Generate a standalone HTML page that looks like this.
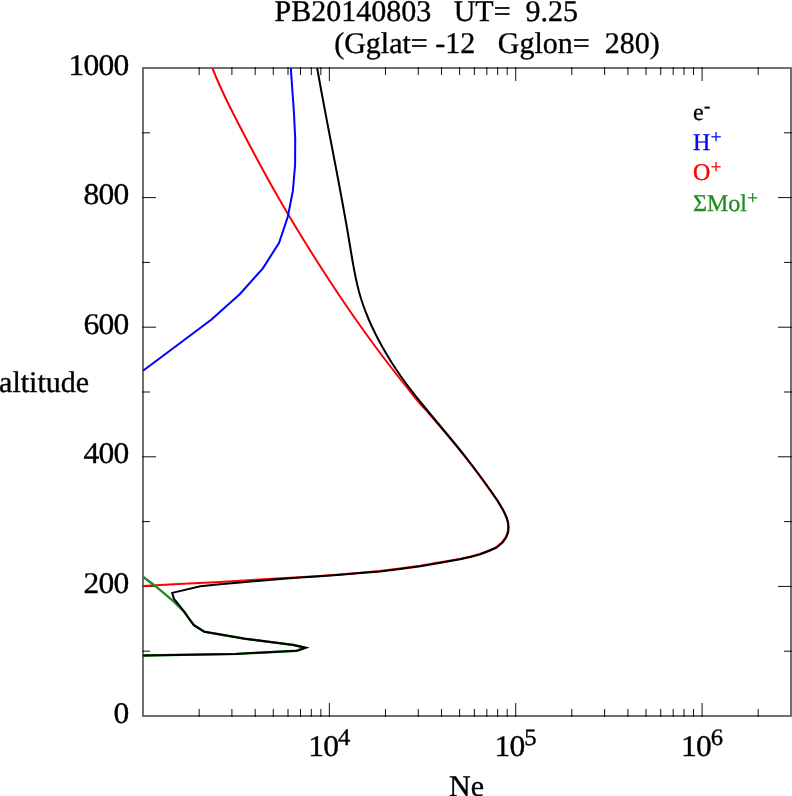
<!DOCTYPE html>
<html><head><meta charset="utf-8"><title>plot</title>
<style>
html,body{margin:0;padding:0;background:#fff;}
body{width:792px;height:796px;overflow:hidden;}
svg{display:block;will-change:transform;}
text{font-family:"Liberation Serif",serif;white-space:pre;text-rendering:geometricPrecision;}
</style></head><body>
<svg width="792" height="796" viewBox="0 0 792 796">
<rect width="792" height="796" fill="#fff"/>
<path d="M199.10,717.0 v-8 M199.10,67.0 v8 M231.92,717.0 v-8 M231.92,67.0 v8 M255.20,717.0 v-8 M255.20,67.0 v8 M273.26,717.0 v-8 M273.26,67.0 v8 M288.02,717.0 v-8 M288.02,67.0 v8 M300.49,717.0 v-8 M300.49,67.0 v8 M311.30,717.0 v-8 M311.30,67.0 v8 M320.83,717.0 v-8 M320.83,67.0 v8 M329.36,717.0 v-14 M329.36,67.0 v14 M385.46,717.0 v-8 M385.46,67.0 v8 M418.28,717.0 v-8 M418.28,67.0 v8 M441.56,717.0 v-8 M441.56,67.0 v8 M459.62,717.0 v-8 M459.62,67.0 v8 M474.38,717.0 v-8 M474.38,67.0 v8 M486.85,717.0 v-8 M486.85,67.0 v8 M497.66,717.0 v-8 M497.66,67.0 v8 M507.19,717.0 v-8 M507.19,67.0 v8 M515.72,717.0 v-14 M515.72,67.0 v14 M571.82,717.0 v-8 M571.82,67.0 v8 M604.64,717.0 v-8 M604.64,67.0 v8 M627.92,717.0 v-8 M627.92,67.0 v8 M645.98,717.0 v-8 M645.98,67.0 v8 M660.74,717.0 v-8 M660.74,67.0 v8 M673.22,717.0 v-8 M673.22,67.0 v8 M684.02,717.0 v-8 M684.02,67.0 v8 M693.56,717.0 v-8 M693.56,67.0 v8 M702.08,717.0 v-14 M702.08,67.0 v14 M758.18,717.0 v-8 M758.18,67.0 v8 M142.0,651.20 h8 M792.0,651.20 h-8 M142.0,586.40 h14 M792.0,586.40 h-14 M142.0,521.60 h8 M792.0,521.60 h-8 M142.0,456.80 h14 M792.0,456.80 h-14 M142.0,392.00 h8 M792.0,392.00 h-8 M142.0,327.20 h14 M792.0,327.20 h-14 M142.0,262.40 h8 M792.0,262.40 h-8 M142.0,197.60 h14 M792.0,197.60 h-14 M142.0,132.80 h8 M792.0,132.80 h-8" stroke="#000" stroke-opacity="0.95" stroke-width="1" fill="none"/>
<rect x="143.0" y="68.0" width="648.0" height="648.0" fill="none" stroke="#000" stroke-opacity="0.56" stroke-width="2"/>
<g fill="none" stroke-width="2" stroke-linejoin="miter" stroke-linecap="butt">
<path d="M212.37,68.00 L215.61,76.00 L219.06,84.00 L222.71,92.00 L226.51,100.00 L230.44,108.00 L234.48,116.00 L238.59,124.00 L242.75,132.00 L246.93,140.00 L251.15,148.00 L255.40,156.00 L259.70,164.00 L264.05,172.00 L268.46,180.00 L272.93,188.00 L277.48,196.00 L282.09,204.00 L286.77,212.00 L291.52,220.00 L296.34,228.00 L301.22,236.00 L306.16,244.00 L311.16,252.00 L316.22,260.00 L321.33,268.00 L326.51,276.00 L331.74,284.00 L337.04,292.00 L342.41,300.00 L347.86,308.00 L353.39,316.00 L359.00,324.00 L364.70,332.00 L370.49,340.00 L376.38,348.00 L382.38,356.00 L388.48,364.00 L394.67,372.00 L400.96,380.00 L407.33,388.00 L413.79,396.00 L420.34,404.00 L426.69,410.90 L432.69,417.90 L438.68,424.90 L444.64,431.90 L450.54,438.90 L456.34,445.90 L461.99,452.90 L467.52,459.90 L472.91,466.90 L478.17,473.90 L483.30,480.90 L488.33,487.90 L496.90,499.85 L502.90,509.95 L506.20,517.05 L507.70,522.05 L508.20,527.15 L507.70,532.15 L505.70,537.25 L502.10,542.25 L496.10,547.35 L489.00,550.35 L479.90,553.85 L469.80,556.75 L459.60,558.95 L440.20,562.35 L420.00,565.85 L399.80,568.55 L379.60,571.05 L360.20,572.75 L340.00,574.45 L319.80,575.95 L299.60,577.25 L280.60,578.20 L260.40,579.40 L240.20,580.70 L220.00,581.90 L199.10,582.90 L173.90,584.20 L143.00,586.00" stroke="#ff0000"/>
<path d="M290.82,68.00 L292.14,87.30 L293.99,113.20 L295.23,139.10 L295.10,165.00 L292.87,190.90 L287.79,216.80 L279.10,242.70 L262.90,268.40 L239.70,294.20 L211.50,319.60 L176.50,345.80 L143.00,370.80" stroke="#0000ff"/>
<path d="M143.00,576.80 L154.90,585.70 L173.90,601.70 L184.30,611.90 L189.00,618.60 L193.80,625.00 L204.20,631.70 L245.00,638.70 L293.60,645.00 L305.50,647.75 L296.90,650.70 L236.00,653.90 L143.00,655.50" stroke="#228b22" stroke-width="2.4"/>
<path d="M317.17,68.00 L318.41,75.00 L319.67,82.00 L320.95,89.00 L322.25,96.00 L323.55,103.00 L324.87,110.00 L326.19,117.00 L327.53,124.00 L328.87,131.00 L330.21,138.00 L331.56,145.00 L332.90,152.00 L334.24,159.00 L335.58,166.00 L336.92,173.00 L338.24,180.00 L339.56,187.00 L340.86,194.00 L342.16,201.00 L343.43,208.00 L344.69,215.00 L345.93,222.00 L347.15,229.00 L348.35,236.00 L349.52,243.00 L350.68,250.00 L351.85,257.00 L353.07,264.00 L354.37,271.00 L355.77,278.00 L357.31,285.00 L359.07,292.00 L361.13,299.00 L363.48,306.00 L366.10,313.00 L368.99,320.00 L372.13,327.00 L375.52,334.00 L379.13,341.00 L382.97,348.00 L387.03,355.00 L391.33,362.00 L395.86,369.00 L400.65,376.00 L405.68,383.00 L410.96,390.00 L416.44,397.00 L422.07,404.00 L427.81,411.00 L433.62,418.00 L439.45,425.00 L445.27,432.00 L451.06,439.00 L456.79,446.00 L462.44,453.00 L467.97,460.00 L473.36,467.00 L478.62,474.00 L483.75,481.00 L488.78,488.00 L497.30,500.20 L503.30,510.30 L506.60,517.40 L508.10,522.40 L508.60,527.50 L508.10,532.50 L506.10,537.60 L502.50,542.60 L496.50,547.70 L489.40,550.70 L480.30,554.20 L470.20,557.10 L460.00,559.30 L440.60,562.70 L420.40,566.20 L400.20,568.90 L380.00,571.40 L360.60,573.10 L340.40,574.80 L320.20,576.30 L300.00,577.60 L280.60,579.00 L260.40,580.70 L240.20,582.40 L220.00,584.20 L200.40,586.30 L172.20,592.90 L174.00,598.90 L179.50,605.60 L184.30,611.90 L189.00,618.60 L193.80,625.00 L204.20,631.70 L245.00,638.70 L293.60,645.00 L305.50,647.75 L296.90,650.70 L236.00,653.90 L143.00,655.50" stroke="#000"/>
</g>
<g font-size="30" stroke="#000" stroke-width="0.35">
<text x="274.5" y="20.5">PB20140803   UT=  9.25</text>
<text x="334.2" y="52.6">(Gglat= -12   Gglon=  280)</text>
<text transform="translate(128.6,74.80) scale(1.05,1)" text-anchor="end" letter-spacing="-0.7">1000</text>
<text transform="translate(128.6,203.80) scale(1.05,1)" text-anchor="end" letter-spacing="-0.7">800</text>
<text transform="translate(128.6,333.80) scale(1.05,1)" text-anchor="end" letter-spacing="-0.7">600</text>
<text transform="translate(128.6,462.80) scale(1.05,1)" text-anchor="end" letter-spacing="-0.7">400</text>
<text transform="translate(128.6,592.80) scale(1.05,1)" text-anchor="end" letter-spacing="-0.7">200</text>
<text transform="translate(128.6,722.80) scale(1.05,1)" text-anchor="end" letter-spacing="-0.7">0</text>
<text x="-0.9" y="391.8">altitude</text>
<text x="449" y="796">Ne</text>
<text transform="translate(308.2,756.0) scale(1.05,1)" letter-spacing="-0.7">10<tspan font-size="23.5" dx="-0.2" dy="-11.0">4</tspan></text>
<text transform="translate(494.5,756.0) scale(1.05,1)" letter-spacing="-0.7">10<tspan font-size="23.5" dx="-0.2" dy="-11.0">5</tspan></text>
<text transform="translate(680.9,756.0) scale(1.05,1)" letter-spacing="-0.7">10<tspan font-size="23.5" dx="-0.2" dy="-11.0">6</tspan></text>
</g>
<text x="693" y="119.5" font-size="24" fill="#000" stroke="#000" stroke-width="0.3">e<tspan font-size="19" dx="0.3" dy="-7.2">-</tspan></text>
<text x="693" y="150" font-size="24" fill="#0000ff" stroke="#0000ff" stroke-width="0.3">H<tspan font-size="19" dx="0.3" dy="-7.2">+</tspan></text>
<text x="693" y="180.3" font-size="24" fill="#ff0000" stroke="#ff0000" stroke-width="0.3">O<tspan font-size="19" dx="0.3" dy="-7.2">+</tspan></text>
<text x="693" y="210.7" font-size="24" fill="#228b22" stroke="#228b22" stroke-width="0.3">ΣMol<tspan font-size="19" dx="0.3" dy="-7.2">+</tspan></text>
</svg></body></html>
